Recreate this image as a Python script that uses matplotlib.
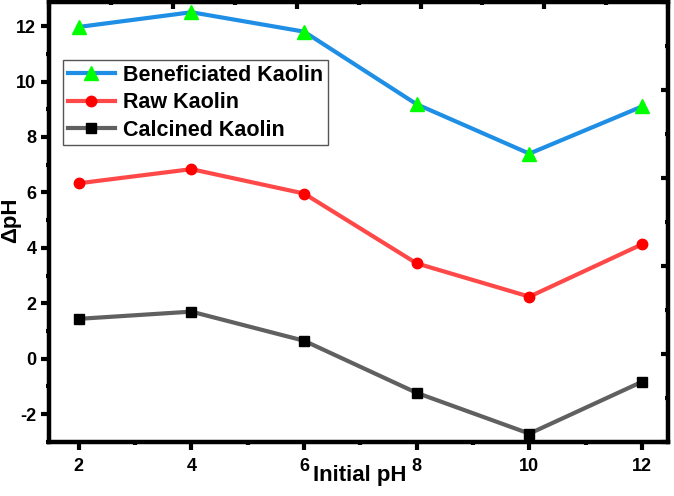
import matplotlib
matplotlib.use("Agg")
import matplotlib.pyplot as plt
from matplotlib.ticker import MultipleLocator

plt.rcParams['font.family'] = ['Liberation Sans', 'DejaVu Sans']
plt.rcParams['font.weight'] = 'bold'
plt.rcParams['axes.unicode_minus'] = False

initial_ph = [2, 4, 6, 8, 10, 12]
beneficiated = [11.97, 12.5, 11.8, 9.18, 7.4, 9.1]
raw = [6.33, 6.84, 5.96, 3.44, 2.24, 4.13]
calcined = [1.44, 1.70, 0.65, -1.23, -2.7, -0.83]

fig = plt.figure(figsize=(6.74, 4.96), dpi=100)
ax = fig.add_axes([0.0734, 0.109, 0.9176, 0.887])

ax.plot(initial_ph, beneficiated, color='#1F8FE5', lw=3, marker='^', ms=10,
        mfc='#00FF00', mec='#00FF00', label='Beneficiated Kaolin')
ax.plot(initial_ph, raw, color='#FF4848', lw=3, marker='o', ms=7.5,
        mfc='#FF0000', mec='#FF0000', label='Raw Kaolin')
ax.plot(initial_ph, calcined, color='#606060', lw=3, marker='s', ms=7,
        mfc='black', mec='black', label='Calcined Kaolin')

ax.set_xlim(1.48, 12.46)
ax.set_ylim(-3.0, 12.87)
ax.xaxis.set_major_locator(MultipleLocator(2))
ax.xaxis.set_minor_locator(MultipleLocator(1))
ax.yaxis.set_major_locator(MultipleLocator(2))
ax.yaxis.set_minor_locator(MultipleLocator(1))

for s in ax.spines.values():
    s.set_linewidth(3)
ax.tick_params(which='both', direction='out', width=3, labelsize=13)
ax.tick_params(which='major', length=5.5)
ax.tick_params(which='minor', length=2.5)
ax.tick_params(axis='x', pad=6)
ax.tick_params(axis='y', pad=4)

# top and right axes in the original have their own tick spacing, pointing inward
top = ax.twiny()
top.set_xlim(0, 10)
top.xaxis.set_major_locator(MultipleLocator(2))
top.xaxis.set_minor_locator(MultipleLocator(1))
top.tick_params(axis='x', which='both', direction='in', width=3, labeltop=False)
top.tick_params(axis='x', which='major', length=5)
top.tick_params(axis='x', which='minor', length=2.5)

right = ax.twinx()
right.set_ylim(0, 10)
right.yaxis.set_major_locator(MultipleLocator(2))
right.yaxis.set_minor_locator(MultipleLocator(1))
right.tick_params(axis='y', which='both', direction='in', width=3, labelright=False)
right.tick_params(axis='y', which='major', length=5)
right.tick_params(axis='y', which='minor', length=2.5)
for a in (top, right):
    for s in a.spines.values():
        s.set_linewidth(3)

ax.set_xlabel('Initial pH', fontsize=16, fontweight='bold')
ax.xaxis.set_label_coords(0.502, -0.052)
ax.set_ylabel('ΔpH', fontsize=16, fontweight='bold')
ax.yaxis.set_label_coords(-0.046, 0.503)

leg = ax.legend(loc='upper left', bbox_to_anchor=(0.022, 0.868), borderaxespad=0,
                fontsize=15.5, frameon=True, fancybox=False, edgecolor='#555555',
                framealpha=1, handlelength=2.2, borderpad=0.22, labelspacing=0.3,
                handletextpad=0.35)
leg.get_frame().set_linewidth(1)
leg.set_zorder(10)
for txt in leg.get_texts():
    txt.set_fontweight('bold')

fig.savefig('out.png', dpi=100)
